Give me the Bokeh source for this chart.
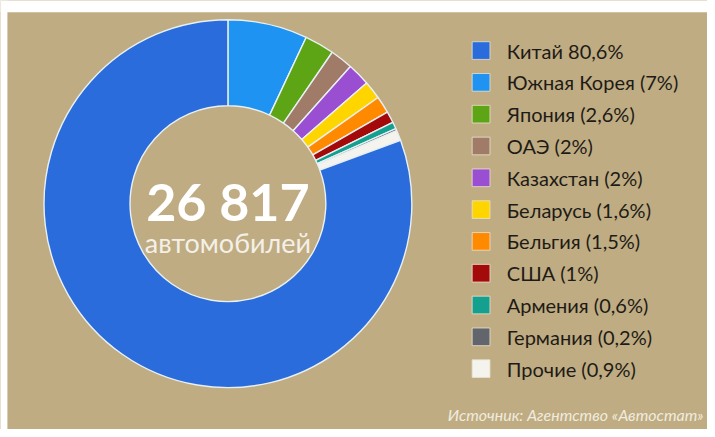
import math
from bokeh.plotting import figure
from bokeh.models import Range1d
from bokeh.core.properties import value
from bokeh.embed import file_html
from bokeh.resources import INLINE

# ---- data ----
countries = ["Китай", "Южная Корея", "Япония", "ОАЭ", "Казахстан", "Беларусь",
             "Бельгия", "США", "Армения", "Германия", "Прочие"]
shares = [80.6, 7, 2.6, 2, 2, 1.6, 1.5, 1, 0.6, 0.2, 0.9]
legend_labels = ["Китай  80,6%", "Южная Корея (7%)", "Япония (2,6%)", "ОАЭ (2%)",
                 "Казахстан (2%)", "Беларусь (1,6%)", "Бельгия (1,5%)", "США (1%)",
                 "Армения (0,6%)", "Германия (0,2%)", "Прочие (0,9%)"]
colors = ["#2A6CDB", "#1F93F2", "#5EA516", "#A07C68", "#9A4FD2", "#FFD500",
          "#FF8A00", "#A50A0A", "#14A08E", "#62666C", "#F4F3EE"]
total_cars = "26 817"
total_label = "автомобилей"
source = "Источник: Агентство «Автостат»"

BG = "#BFAC82"
W, H = 707, 429
RW, RH = 715, 437   # reference picture coordinates

p = figure(width=W, height=H, output_backend="svg", toolbar_location=None,
           x_range=Range1d(0, RW), y_range=Range1d(-RH, 0),
           min_border=0, outline_line_color=None)
p.axis.visible = False
p.grid.visible = False
p.background_fill_color = BG
p.border_fill_color = BG

# white photo-crop strips (top and left)
p.quad(left=0, right=RW, top=0, bottom=-12, fill_color="white", line_color=None)
p.quad(left=0, right=7, top=0, bottom=-RH, fill_color="white", line_color=None)

# donut: clockwise from top, China last
cx, cy = 230, -207
order = list(range(1, len(shares))) + [0]
tot = sum(shares)
cum = 0.0
starts, ends, cols = [], [], []
for i in order:
    a0 = math.pi / 2 - 2 * math.pi * cum / tot
    cum += shares[i]
    a1 = math.pi / 2 - 2 * math.pi * cum / tot
    starts.append(a0)
    ends.append(a1)
    cols.append(colors[i])
p.annular_wedge(x=cx, y=cy, inner_radius=99, outer_radius=186,
                start_angle=starts, end_angle=ends, direction="clock",
                fill_color=cols, line_color="#E8F0F4", line_width=1.4)

# center text
p.text(x=[cx], y=[-204], text=[total_cars], text_align="center", text_baseline="middle",
       text_font=value("Lato"), text_font_style="bold", text_font_size="52px",
       text_color="white")
p.text(x=[cx], y=[-247], text=[total_label], text_align="center", text_baseline="middle",
       text_font=value("Lato"), text_font_size="27px", text_color="#F4F0E8")

# legend
ys = [-(51 + 32.4 * i) for i in range(len(legend_labels))]
p.rect(x=[486] * len(ys), y=ys, width=18, height=18, fill_color=colors,
       line_color="#E9E2D0", line_width=0.8)
p.text(x=[512] * len(ys), y=ys, text=legend_labels, text_align="left",
       text_baseline="middle", text_font=value("Lato"), text_font_size="20px",
       text_color="#1E1B17")

# source
p.text(x=[711], y=[-422], text=[source], text_align="right", text_baseline="middle",
       text_font=value("Lato"), text_font_style="italic", text_font_size="16px",
       text_color="#F0EBDF")

open("out.html", "w").write(file_html(p, INLINE))
